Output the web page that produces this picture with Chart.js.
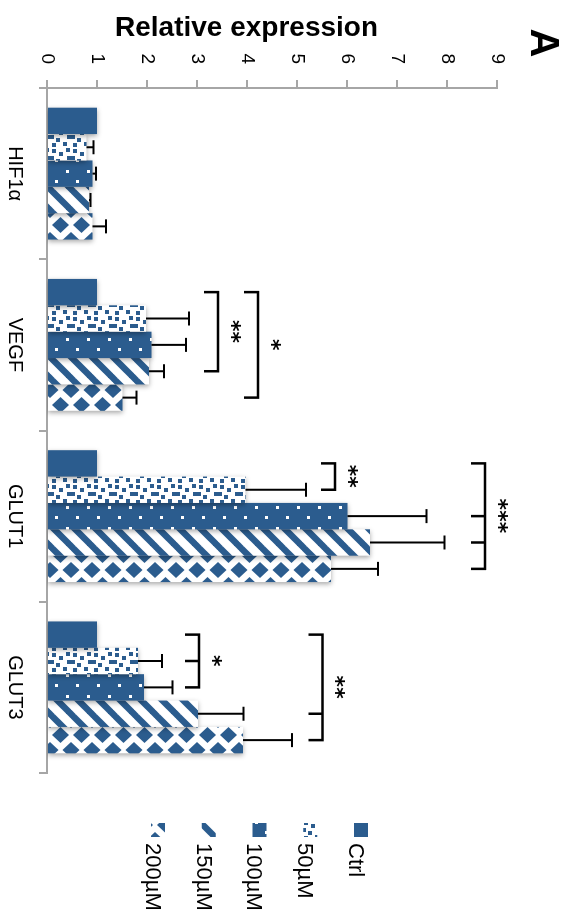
<!DOCTYPE html>
<html>
<head>
<meta charset="utf-8">
<script src="https://cdn.jsdelivr.net/npm/chart.js@4.4.1/dist/chart.umd.min.js"></script>
<style>
  html, body { margin: 0; padding: 0; background: #fff; overflow: hidden; }
  body { width: 575px; height: 921px; position: relative; }
  /* the figure is drawn upright, then turned a quarter clockwise */
  #wrap { position: absolute; left: 0; top: 0; width: 921px; height: 575px;
          transform-origin: 0 0; transform: translateX(575px) rotate(90deg); }
</style>
</head>
<body>
<div id="wrap"><canvas id="chart" width="921" height="575"></canvas></div>
<script>
const categories = ['HIF1α', 'VEGF', 'GLUT1', 'GLUT3'];
const seriesNames = ['Ctrl', '50µM', '100µM', '150µM', '200µM'];

const ctrlVals = [1.0, 1.0, 1.0, 1.0];
const m50Vals  = [0.79, 1.98, 3.97, 1.82];
const m100Vals = [0.91, 2.09, 6.01, 1.94];
const m150Vals = [0.84, 2.04, 6.46, 3.02];
const m200Vals = [0.91, 1.51, 5.68, 3.92];

const ctrlErr = [0, 0, 0, 0];
const m50Err  = [0.14, 0.86, 1.21, 0.48];
const m100Err = [0.07, 0.69, 1.58, 0.57];
const m150Err = [0.03, 0.30, 1.49, 0.91];
const m200Err = [0.27, 0.28, 0.94, 0.98];

const valueTicks = [0, 1, 2, 3, 4, 5, 6, 7, 8, 9];

// significance brackets: category, compared bars, height, stars
const brackets = [
  { cat: 1, bars: [0, 3], level: 3.42, label: '**' },
  { cat: 1, bars: [0, 4], level: 4.22, label: '*' },
  { cat: 2, bars: [0, 1], level: 5.76, label: '**' },
  { cat: 2, bars: [0, 2, 3, 4], level: 8.76, label: '***' },
  { cat: 3, bars: [0, 1, 2], level: 3.04, label: '*' },
  { cat: 3, bars: [0, 3, 4], level: 5.51, label: '**' },
];

const BLUE = '#2b5c8e';
const AXIS = '#a6a6a6';
const FONT = "'Liberation Sans', Arial, sans-serif";

const canvas = document.getElementById('chart');
const ctx = canvas.getContext('2d');

function makePattern(kind) {
  // tile width runs across the bar, tile height along it
  const W = kind === 'diamonds' ? 30 : 21;
  const H = 21;
  const c = document.createElement('canvas');
  c.width = W; c.height = H;
  const g = c.getContext('2d');
  g.fillStyle = kind === 'solid' || kind === 'dots' ? BLUE : '#fff';
  g.fillRect(0, 0, W, H);
  g.fillStyle = BLUE;
  if (kind === 'confetti') {
    [[1, 1], [9, 0], [16, 4], [5, 8], [12, 11], [17, 15], [2, 15], [9, 17]]
      .forEach(([x, y]) => g.fillRect(x, y, 4, 4));
  } else if (kind === 'dots') {
    g.fillStyle = '#fff';
    g.fillRect(2, 2, 3, 3);
    g.fillRect(12, 13, 3, 3);
  } else if (kind === 'stripes') {
    g.strokeStyle = BLUE;
    g.lineWidth = 6.5;
    for (const x0 of [-W, 0, W]) {
      g.beginPath();
      g.moveTo(x0 - 2, H + 2);
      g.lineTo(x0 + W + 2, -2);
      g.stroke();
    }
  } else if (kind === 'diamonds') {
    const rx = 8, ry = 8.5;
    for (const [cx, cy] of [[0, 0], [W, 0], [0, H], [W, H], [W / 2, H / 2]]) {
      g.beginPath();
      g.moveTo(cx, cy - ry); g.lineTo(cx + rx, cy); g.lineTo(cx, cy + ry); g.lineTo(cx - rx, cy);
      g.closePath();
      g.fill();
    }
  }
  return ctx.createPattern(c, 'repeat');
}

const patterns = ['solid', 'confetti', 'dots', 'stripes', 'diamonds'].map(makePattern);
const seriesVals = [ctrlVals, m50Vals, m100Vals, m150Vals, m200Vals];
const seriesErr = [ctrlErr, m50Err, m100Err, m150Err, m200Err];

const shadowPlugin = {
  id: 'barShadow',
  beforeDatasetDraw(chart) {
    const c = chart.ctx;
    c.save();
    c.shadowColor = 'rgba(0,0,0,0.35)';
    c.shadowBlur = 5;
    c.shadowOffsetX = 2;
    c.shadowOffsetY = 0;
  },
  afterDatasetDraw(chart) {
    chart.ctx.restore();
  },
};

const errorBars = {
  id: 'errorBars',
  afterDatasetsDraw(chart) {
    const c = chart.ctx;
    const y = chart.scales.y;
    c.save();
    c.strokeStyle = '#000';
    c.lineWidth = 2;
    chart.data.datasets.forEach((ds, i) => {
      chart.getDatasetMeta(i).data.forEach((bar, j) => {
        const e = ds.errors[j];
        if (!e) return;
        const from = y.getPixelForValue(ds.data[j]);
        const to = y.getPixelForValue(ds.data[j] + e);
        c.beginPath();
        c.moveTo(bar.x, from); c.lineTo(bar.x, to);
        c.moveTo(bar.x - 7, to); c.lineTo(bar.x + 7, to);
        c.stroke();
      });
    });
    c.restore();
  },
};

function centeredText(c, text, cx, cy) {
  const m = c.measureText(text);
  const x = cx - (m.actualBoundingBoxRight - m.actualBoundingBoxLeft) / 2;
  const y = cy + (m.actualBoundingBoxAscent - m.actualBoundingBoxDescent) / 2;
  c.fillText(text, x, y);
}

const bracketPlugin = {
  id: 'brackets',
  afterDatasetsDraw(chart) {
    const c = chart.ctx;
    const y = chart.scales.y;
    c.save();
    c.strokeStyle = '#000';
    c.fillStyle = '#000';
    c.lineWidth = 2.5;
    c.textAlign = 'left';
    c.textBaseline = 'alphabetic';
    c.font = "bold 22px 'DejaVu Sans', sans-serif";
    brackets.forEach((b) => {
      const xs = b.bars.map((k) => chart.getDatasetMeta(k).data[b.cat].x);
      const yl = y.getPixelForValue(b.level);
      const first = xs[0], last = xs[xs.length - 1];
      c.beginPath();
      c.moveTo(first, yl + 14); c.lineTo(first, yl); c.lineTo(last, yl); c.lineTo(last, yl + 14);
      xs.slice(1, -1).forEach((x) => { c.moveTo(x, yl); c.lineTo(x, yl + 14); });
      c.stroke();
      centeredText(c, b.label, (first + last) / 2, yl - 18);
    });
    c.restore();
  },
};

const decor = {
  id: 'decor',
  afterDraw(chart) {
    const c = chart.ctx;
    c.save();
    c.fillStyle = '#000';
    c.textBaseline = 'alphabetic';
    // axis title
    c.save();
    c.translate(26, 328.5);
    c.rotate(-Math.PI / 2);
    c.font = 'bold 28px ' + FONT;
    c.textAlign = 'center';
    c.fillText('Relative expression', 0, 10);
    c.restore();
    // panel letter
    c.font = 'bold 40px ' + FONT;
    c.textAlign = 'center';
    c.fillText('A', 43, 44);
    // legend
    c.textAlign = 'left';
    c.font = '22px ' + FONT;
    seriesNames.forEach((name, i) => {
      const cy = 214 + i * 50.75;
      c.fillStyle = patterns[i];
      c.fillRect(823, cy - 7, 14, 14);
      c.fillStyle = '#000';
      c.fillText(name, 843, cy + 12);
    });
    c.restore();
  },
};

new Chart(ctx, {
  type: 'bar',
  data: {
    labels: categories,
    datasets: seriesNames.map((name, i) => ({
      label: name,
      data: seriesVals[i],
      errors: seriesErr[i],
      backgroundColor: patterns[i],
      borderWidth: 0,
      categoryPercentage: 0.77,
      barPercentage: 1,
    })),
  },
  options: {
    responsive: false,
    animation: false,
    devicePixelRatio: 1,
    layout: { padding: { top: 78, right: 148, left: 0, bottom: 0 } },
    plugins: { legend: { display: false }, tooltip: { enabled: false } },
    scales: {
      x: {
        grid: { offset: true, drawOnChartArea: false, tickLength: 8, color: AXIS, lineWidth: 2 },
        border: { color: AXIS, width: 2 },
        ticks: { color: '#000', font: { family: FONT, size: 20 }, padding: 12, maxRotation: 0 },
        afterFit(s) { s.height = 47; },
      },
      y: {
        min: valueTicks[0],
        max: valueTicks[valueTicks.length - 1],
        afterBuildTicks(s) { s.ticks = valueTicks.map((v) => ({ value: v })); },
        grid: { drawOnChartArea: false, tickLength: 8, color: AXIS, lineWidth: 2 },
        border: { color: AXIS, width: 2 },
        ticks: { color: '#000', font: { family: FONT, size: 19 }, padding: 16 },
        afterFit(s) { s.width = 88; },
      },
    },
  },
  plugins: [shadowPlugin, errorBars, bracketPlugin, decor],
});
</script>
</body>
</html>
